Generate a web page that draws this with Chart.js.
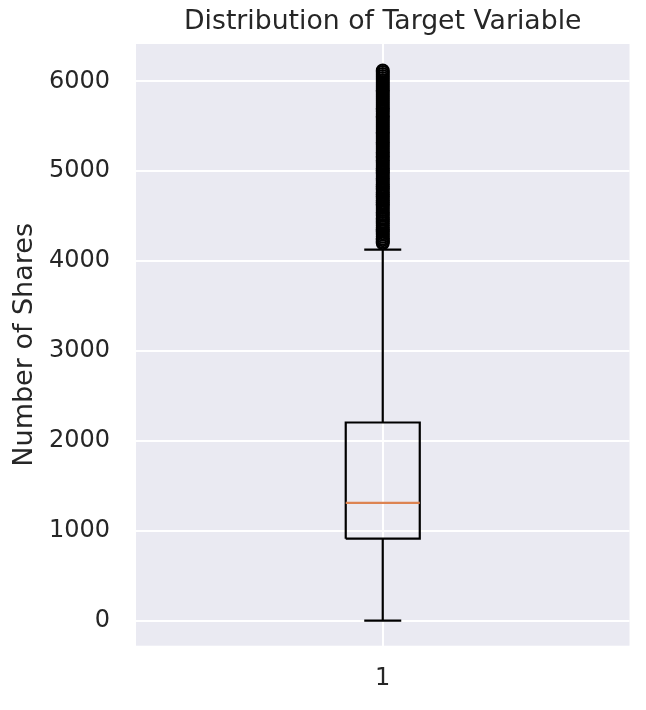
<!DOCTYPE html>
<html><head><meta charset="utf-8">
<script src="https://cdn.jsdelivr.net/npm/chart.js@4.4.0/dist/chart.umd.min.js"></script>
<style>html,body{margin:0;padding:0;background:#fff;} #wrap{width:646px;height:710px;position:relative;}</style>
</head><body><div id="wrap"><canvas id="c"></canvas></div>
<script>
// ---- data ----
const categories = ['1'];
const categoryPositions = [1];
const q1Values = [913];
const medianValues = [1311];
const q3Values = [2205];
const whiskerLowValues = [1];
const whiskerHighValues = [4128];
const outlierValues = [4198, 4214, 4233, 4250, 4271, 4292, 4310, 4334, 4352, 4375, 4398, 4420, 4441, 4463, 4480, 4505, 4522, 4547, 4568, 4590, 4612, 4633, 4655, 4680, 4700, 4722, 4745, 4768, 4790, 4812, 4833, 4857, 4880, 4900, 4925, 4946, 4968, 4990, 5012, 5035, 5058, 5080, 5101, 5124, 5146, 5170, 5190, 5213, 5236, 5258, 5280, 5301, 5325, 5347, 5370, 5391, 5413, 5436, 5458, 5480, 5503, 5525, 5548, 5570, 5591, 5614, 5636, 5660, 5680, 5703, 5725, 5748, 5770, 5792, 5814, 5836, 5858, 5880, 5903, 5925, 5948, 5970, 5992, 6015, 6037, 6060, 6082, 6104, 6121];
const yTickValues = [0, 1000, 2000, 3000, 4000, 5000, 6000];
const yRange = [-278, 6415];
const xRange = [0.5, 1.5];
const titleText = 'Distribution of Target Variable';
const yLabelText = 'Number of Shares';

// ---- styles ----
const BOX_W = 0.15, CAP_W = 0.075;
const FONT = "'DejaVu Sans', sans-serif";
const TEXT = '#262626';

const boxPts = [], medPts = [], whiskPts = [], outPts = [];
categoryPositions.forEach((p, i) => {
  const l = p - BOX_W / 2, r = p + BOX_W / 2;
  boxPts.push({x: l, y: q1Values[i]}, {x: r, y: q1Values[i]}, {x: r, y: q3Values[i]}, {x: l, y: q3Values[i]}, {x: l, y: q1Values[i]}, {x: NaN, y: null});
  medPts.push({x: l, y: medianValues[i]}, {x: r, y: medianValues[i]}, {x: NaN, y: null});
  whiskPts.push({x: p, y: q1Values[i]}, {x: p, y: whiskerLowValues[i]}, {x: NaN, y: null});
  whiskPts.push({x: p - CAP_W / 2, y: whiskerLowValues[i]}, {x: p + CAP_W / 2, y: whiskerLowValues[i]}, {x: NaN, y: null});
  whiskPts.push({x: p, y: q3Values[i]}, {x: p, y: whiskerHighValues[i]}, {x: NaN, y: null});
  whiskPts.push({x: p - CAP_W / 2, y: whiskerHighValues[i]}, {x: p + CAP_W / 2, y: whiskerHighValues[i]}, {x: NaN, y: null});
  outlierValues.forEach(v => outPts.push({x: p, y: v}));
});

const lineDs = (data, color) => ({
  type: 'scatter', data, showLine: true, spanGaps: false, borderColor: color, borderWidth: 2.2,
  pointRadius: 0, pointHoverRadius: 0, fill: false, tension: 0, borderCapStyle: 'butt', borderJoinStyle: 'miter'
});

const bgPlugin = {
  id: 'bg',
  beforeDraw(chart) {
    const {ctx, chartArea: a} = chart;
    ctx.save();
    ctx.fillStyle = '#ffffff';
    ctx.fillRect(0, 0, chart.width, chart.height);
    ctx.fillStyle = '#EAEAF2';
    ctx.fillRect(a.left, a.top, a.right - a.left, a.bottom - a.top);
    ctx.restore();
  }
};

new Chart(document.getElementById('c'), {
  type: 'scatter',
  data: {
    datasets: [
      {
        type: 'scatter', data: outPts, showLine: false, pointRadius: 6, pointBorderWidth: 2,
        pointBackgroundColor: 'rgba(0,0,0,0)', pointBorderColor: '#000000', pointHoverRadius: 6
      },
      lineDs(medPts, '#DD8452'),
      lineDs(boxPts, '#000000'),
      lineDs(whiskPts, '#000000')
    ]
  },
  options: {
    responsive: true, maintainAspectRatio: false, animation: false,
    layout: {padding: {left: 0, right: 16.5, top: 0, bottom: 0}},
    plugins: {
      legend: {display: false},
      tooltip: {enabled: false},
      title: {
        display: true, text: titleText, fullSize: false, color: TEXT,
        font: {family: FONT, size: 26.7, weight: 'normal', lineHeight: 1.2},
        padding: {top: 6, bottom: 5.96}
      }
    },
    scales: {
      x: {
        type: 'linear', min: xRange[0], max: xRange[1],
        afterBuildTicks: s => { s.ticks = categoryPositions.map(v => ({value: v})); },
        afterFit: s => { s.height = 64.3; },
        grid: {color: '#ffffff', lineWidth: 2, drawTicks: false},
        border: {display: false},
        ticks: {
          padding: 19, color: TEXT, font: {family: FONT, size: 24, lineHeight: 1.2},
          callback: v => { const i = categoryPositions.indexOf(v); return i >= 0 ? categories[i] : ''; }
        }
      },
      y: {
        type: 'linear', min: yRange[0], max: yRange[1],
        afterBuildTicks: s => { s.ticks = yTickValues.map(v => ({value: v})); },
        afterFit: s => { s.width = 136; },
        grid: {color: '#ffffff', lineWidth: 2, drawTicks: false},
        border: {display: false},
        title: {
          display: true, text: yLabelText, color: TEXT,
          font: {family: FONT, size: 27, weight: 'normal', lineHeight: 1.2},
          padding: {top: 8.3, bottom: 0}
        },
        ticks: {
          padding: 26, color: TEXT, font: {family: FONT, size: 24, lineHeight: 1.2},
          callback: v => String(v)
        }
      }
    }
  },
  plugins: [bgPlugin]
});
</script>
</body></html>
